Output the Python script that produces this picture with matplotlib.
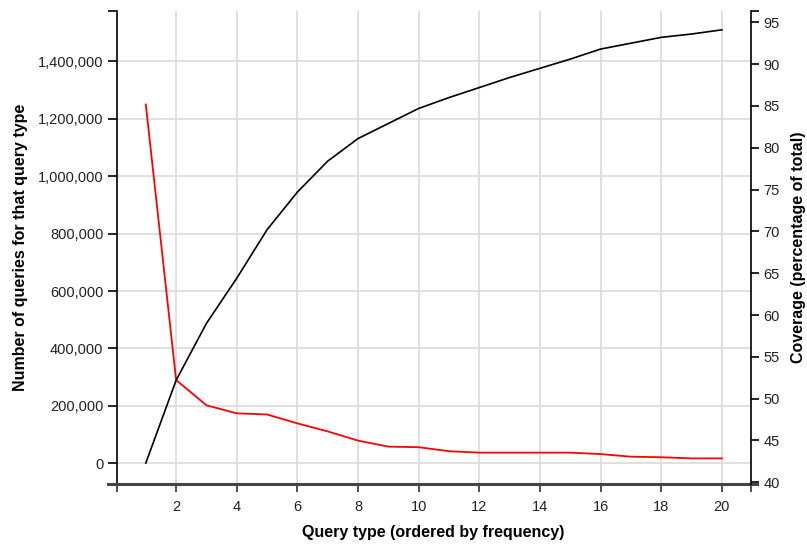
import matplotlib.pyplot as plt
from matplotlib.ticker import FuncFormatter

plt.rcParams['font.family'] = ['Liberation Sans', 'DejaVu Sans']

# данные
query_type = list(range(1, 21))
num_queries = [1250000, 290000, 202000, 174000, 170000, 139000, 111000, 79000, 58000, 56000,
               42000, 37000, 37000, 37000, 37000, 32000, 23000, 21000, 17000, 17000]
coverage = [42.3, 52.2, 59.0, 64.4, 70.2, 74.7, 78.4, 81.1, 82.9, 84.7,
            86.0, 87.2, 88.4, 89.5, 90.6, 91.8, 92.5, 93.2, 93.6, 94.1]

x_ticks = list(range(2, 21, 2))
left_ticks = list(range(0, 1400001, 200000))
right_ticks = list(range(40, 96, 5))

fig = plt.figure(figsize=(8.07, 5.45), dpi=100)
ax = fig.add_axes([0.1446, 0.1114, 0.7856, 0.869])
ax2 = ax.twinx()

xlim = (0.04, 20.95)
ylim = (-73200, 1577000)
ylim2 = (39.76, 96.39)

ax.plot(query_type, num_queries, color='#ff0000', lw=1.3, zorder=3)
ax2.plot(query_type, coverage, color='black', lw=1.2)

ax.set_xlim(*xlim)
ax.set_ylim(*ylim)
ax2.set_ylim(*ylim2)

ax.set_xticks(x_ticks)
ax.set_xticks(list(xlim), minor=True)
ax.set_yticks(left_ticks)
ax.set_yticks([ylim[1]], minor=True)
ax2.set_yticks(right_ticks)
ax2.set_yticks([ylim2[1]], minor=True)
ax.yaxis.set_major_formatter(FuncFormatter(lambda v, p: f'{int(v):,}'))

ax.grid(True, which='major', color='#dddddd', lw=1.3)
ax.set_axisbelow(True)

for a in (ax, ax2):
    a.spines['top'].set_visible(False)
ax.spines['right'].set_visible(False)
ax2.spines['left'].set_visible(False)
ax2.spines['bottom'].set_visible(False)
ax.spines['left'].set_linewidth(1.2)
ax2.spines['right'].set_linewidth(1.2)
ax.spines['bottom'].set_color('#444444')
ax.spines['bottom'].set_linewidth(2.2)
ax.spines['bottom'].set_bounds(-0.25, 21.15)

ax.tick_params(axis='x', which='both', direction='out', length=6, width=1.2, color='#333333',
               labelsize=10.5, labelcolor='#222222', pad=5)
ax.tick_params(axis='y', which='both', direction='out', length=6.5, width=1.2, color='black',
               labelsize=10.5, labelcolor='#222222', pad=3)
ax2.tick_params(axis='y', which='both', direction='out', length=6, width=1.2, color='black',
                labelsize=10.5, labelcolor='#222222', pad=3)

ax.set_xlabel('Query type (ordered by frequency)', fontsize=11.5, fontweight='bold', labelpad=8)
ax.set_ylabel('Number of queries for that query type', fontsize=11.5, fontweight='bold', labelpad=7)
ax2.set_ylabel('Coverage (percentage of total)', fontsize=11.5, fontweight='bold', labelpad=8)

fig.savefig('out.png', dpi=100)
